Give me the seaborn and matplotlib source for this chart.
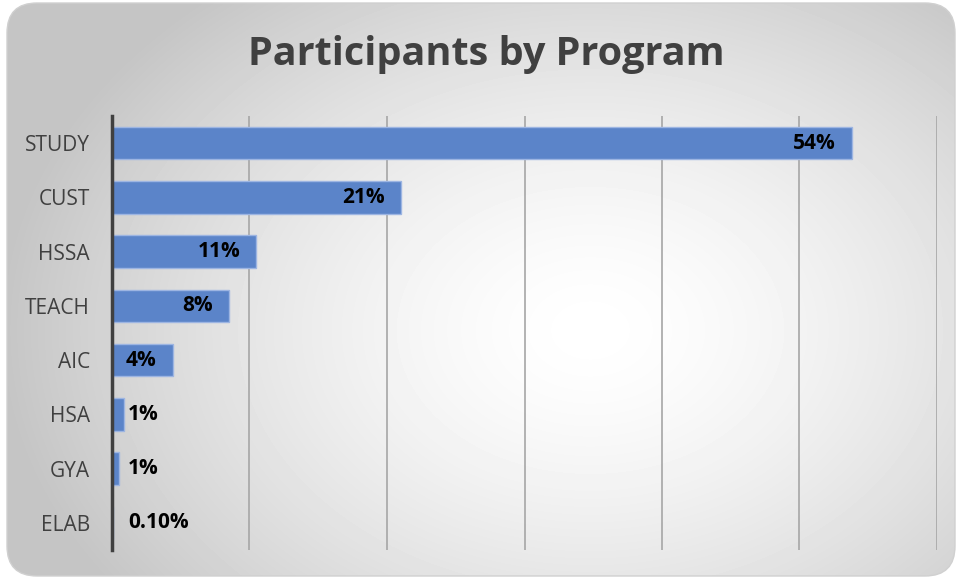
import numpy as np
import pandas as pd
import matplotlib.pyplot as plt
from matplotlib.patches import FancyBboxPatch
import seaborn as sns

# data
programs = ['STUDY', 'CUST', 'HSSA', 'TEACH', 'AIC', 'HSA', 'GYA', 'ELAB']
share = [0.538, 0.21, 0.105, 0.085, 0.044, 0.009, 0.005, 0.001]
labels = ['54%', '21%', '11%', '8%', '4%', '1%', '1%', '0.10%']

sns.set_style('white')
plt.rcParams['font.family'] = ['Open Sans', 'DejaVu Sans']

df = pd.DataFrame({'program': programs, 'share': share})

fig = plt.figure(figsize=(9.59, 5.77), dpi=100)
fig.patch.set_facecolor('white')

# background: rounded box with radial gradient
bg = fig.add_axes([0, 0, 1, 1], zorder=0)
bg.set_xlim(0, 959)
bg.set_ylim(577, 0)
bg.axis('off')
yy, xx = np.mgrid[0:577, 0:959]
r = np.sqrt(((xx - 590) / 540.0) ** 2 + ((yy - 330) / 400.0) ** 2)
grad = np.clip(1.0 - 0.2 * r ** 1.5, 0.77, 1.0)
img = bg.imshow(grad, cmap='gray', vmin=0, vmax=1, extent=(0, 959, 577, 0),
                interpolation='bilinear')
box = FancyBboxPatch((7 + 30, 3 + 30), 948 - 60, 573 - 60,
                     boxstyle='round,pad=30', facecolor='none',
                     edgecolor='#d0d0d0', lw=1)
bg.add_patch(box)
img.set_clip_path(box)

ax = fig.add_axes([112 / 959, 1 - 550 / 577, (937 - 112) / 959, (550 - 116) / 577], zorder=1)
ax.patch.set_alpha(0)
sns.barplot(data=df, x='share', y='program', orient='h', color='#5b84c9',
            saturation=1, width=0.6, edgecolor='#9db5e2', linewidth=1, ax=ax)

ax.set_xlim(0, 0.6)
ax.set_xticks(np.arange(0.1, 0.61, 0.1))
ax.set_xticklabels([])
ax.grid(axis='x', color='#a6a6a6', lw=1.2)
ax.set_axisbelow(True)
for s in ['top', 'right', 'bottom']:
    ax.spines[s].set_visible(False)
ax.spines['left'].set_color('#404040')
ax.spines['left'].set_linewidth(2.5)
ax.tick_params(axis='y', length=0, pad=16, labelsize=15, labelcolor='#404040')
ax.tick_params(axis='x', length=0)
ax.set_xlabel('')
ax.set_ylabel('')

for i, (v, t) in enumerate(zip(share, labels)):
    if v >= 0.04:
        ax.annotate(t, (v, i), xytext=(-16, 0), textcoords='offset pixels',
                    ha='right', va='center', fontsize=15, fontweight='bold', color='black')
    else:
        ax.annotate(t, (0, i), xytext=(16, 0), textcoords='offset pixels',
                    ha='left', va='center', fontsize=15, fontweight='bold', color='black')

fig.text(486 / 959, 1 - 55 / 577, 'Participants by Program', ha='center', va='center',
         fontsize=28.5, fontweight='bold', color='#404040')

fig.savefig('out.png', dpi=100)
